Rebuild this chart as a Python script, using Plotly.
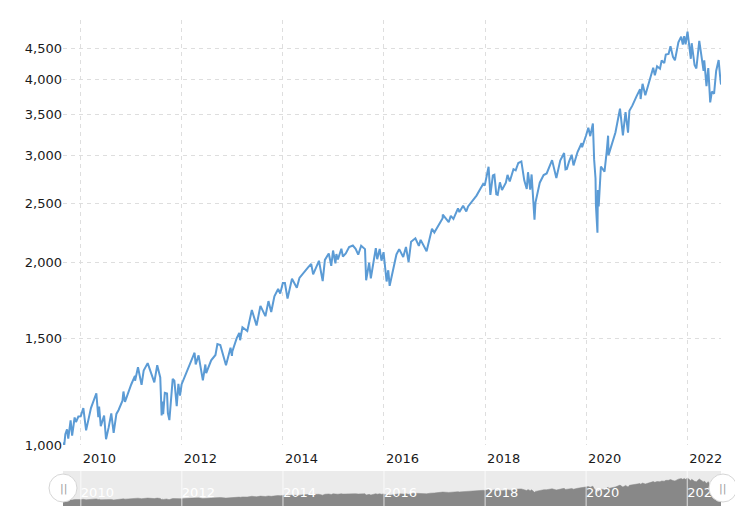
import plotly.graph_objects as go

dates = [
"2009-08-25","2009-09-02","2009-09-11","2009-09-23","2009-10-02","2009-10-19","2009-10-30","2009-11-17","2009-11-27","2009-12-14","2009-12-31",
"2010-01-19","2010-02-08","2010-02-26","2010-03-15","2010-04-23","2010-05-07","2010-05-13","2010-05-25","2010-06-18","2010-07-02","2010-07-21","2010-08-09","2010-08-26","2010-09-15","2010-09-30","2010-10-29","2010-11-05","2010-11-16","2010-12-31",
"2011-01-27","2011-01-28","2011-02-18","2011-03-16","2011-03-31","2011-04-29","2011-05-23","2011-06-16","2011-07-07","2011-07-29","2011-08-08","2011-08-12","2011-08-19","2011-08-31","2011-09-16","2011-09-22","2011-10-03","2011-10-27","2011-11-08","2011-11-25","2011-12-07","2011-12-19","2011-12-30",
"2012-01-31","2012-02-29","2012-04-02","2012-04-10","2012-05-01","2012-06-01","2012-06-19","2012-06-25","2012-07-31","2012-08-31","2012-09-14","2012-10-05","2012-11-15","2012-12-18","2012-12-28","2012-12-31",
"2013-01-31","2013-02-19","2013-02-25","2013-03-14","2013-04-18","2013-05-21","2013-06-24","2013-07-22","2013-08-27","2013-09-18","2013-10-08","2013-10-31","2013-11-27","2013-12-12","2013-12-31",
"2014-01-15","2014-02-03","2014-03-07","2014-04-11","2014-04-30","2014-05-30","2014-06-30","2014-07-24","2014-08-07","2014-09-18","2014-10-15","2014-10-31","2014-11-28","2014-12-16","2014-12-29",
"2015-01-15","2015-01-22","2015-02-02","2015-02-27","2015-03-10","2015-03-31","2015-04-24","2015-05-21","2015-06-10","2015-06-29","2015-07-20","2015-08-17","2015-08-25","2015-09-16","2015-09-28","2015-10-30","2015-11-03","2015-11-13","2015-12-01","2015-12-14","2015-12-29",
"2016-01-20","2016-02-01","2016-02-11","2016-03-31","2016-04-20","2016-05-19","2016-06-08","2016-06-27","2016-07-15","2016-08-15","2016-09-09","2016-09-22","2016-11-04","2016-11-30","2016-12-13","2016-12-30",
"2017-01-26","2017-02-28","2017-03-01","2017-04-13","2017-04-28","2017-05-17","2017-06-19","2017-06-29","2017-07-26","2017-08-18","2017-08-31","2017-09-29","2017-10-31","2017-11-30","2017-12-18","2017-12-29",
"2018-01-26","2018-02-08","2018-02-26","2018-03-09","2018-03-23","2018-04-02","2018-04-18","2018-05-03","2018-05-31","2018-06-12","2018-06-28","2018-07-25","2018-08-10","2018-08-29","2018-09-20","2018-10-11","2018-10-29","2018-11-07","2018-11-23","2018-12-03","2018-12-24","2018-12-31",
"2019-01-31","2019-02-28","2019-03-22","2019-04-30","2019-05-31","2019-06-28","2019-07-26","2019-08-05","2019-08-15","2019-08-30","2019-09-19","2019-10-02","2019-10-31","2019-11-29","2019-12-03","2019-12-31",
"2020-01-17","2020-01-31","2020-02-19","2020-02-28","2020-03-09","2020-03-12","2020-03-16","2020-03-23","2020-03-26","2020-04-01","2020-04-17","2020-05-13","2020-05-29","2020-06-08","2020-06-11","2020-06-30","2020-07-31","2020-09-02","2020-09-23","2020-10-12","2020-10-30","2020-11-09","2020-11-30","2020-12-31",
"2021-01-25","2021-01-29","2021-02-12","2021-03-04","2021-03-31","2021-04-30","2021-05-12","2021-05-28","2021-06-18","2021-06-30","2021-07-19","2021-07-30","2021-08-19","2021-09-02","2021-09-20","2021-10-04","2021-10-29","2021-11-18","2021-11-30","2021-12-10","2021-12-20",
"2022-01-03","2022-01-27","2022-02-02","2022-02-23","2022-03-08","2022-03-29","2022-04-14","2022-04-29","2022-05-04","2022-05-20","2022-06-02","2022-06-16","2022-06-28","2022-07-14","2022-07-29","2022-08-16","2022-08-26","2022-09-02",
]

values = [
1010,995,1042,1061,1025,1098,1036,1110,1091,1114,1115,
1150,1057,1105,1150,1217,1111,1157,1074,1118,1022,1069,1127,1047,1125,1141,1183,1225,1178,1258,
1300,1276,1343,1256,1326,1364,1317,1268,1353,1292,1119,1179,1124,1219,1216,1129,1099,1285,1276,1159,1261,1206,1258,
1312,1366,1419,1358,1405,1278,1357,1313,1379,1407,1466,1461,1353,1446,1402,1426,
1498,1530,1488,1563,1541,1669,1573,1695,1630,1726,1656,1757,1807,1776,1848,
1848,1742,1878,1815,1884,1924,1960,1988,1910,2011,1862,2018,2068,1973,2091,
1992,2063,2021,2105,2044,2068,2118,2131,2105,2058,2129,2102,1868,1996,1882,2079,2110,2023,2103,2012,2078,
1859,1940,1829,2060,2102,2040,2119,2001,2162,2190,2128,2177,2085,2199,2271,2239,
2296,2364,2396,2329,2384,2357,2453,2419,2478,2425,2472,2519,2575,2648,2691,2674,
2873,2581,2780,2787,2588,2582,2708,2630,2705,2786,2716,2846,2833,2914,2931,2728,2641,2814,2633,2790,2351,2507,
2704,2784,2801,2946,2752,2942,3026,2844,2848,2926,3006,2887,3038,3141,3093,3231,
3330,3226,3386,2954,2747,2481,2386,2237,2630,2471,2875,2820,3044,3232,3002,3100,3271,3580,3237,3534,3270,3551,3622,3756,
3855,3714,3934,3768,3973,4181,4063,4204,4166,4298,4258,4395,4406,4537,4358,4300,4605,4705,4567,4712,4568,
4796,4326,4589,4225,4170,4632,4393,4132,4300,3901,4176,3667,3821,3790,4130,4305,4058,3924,
]

y_ticks = [1000, 1500, 2000, 2500, 3000, 3500, 4000, 4500]
y_tick_labels = ["1,000", "1,500", "2,000", "2,500", "3,000", "3,500", "4,000", "4,500"]
x_ticks = ["2010-01-01", "2012-01-01", "2014-01-01", "2016-01-01", "2018-01-01", "2020-01-01", "2022-01-01"]
x_tick_labels = ["2010", "2012", "2014", "2016", "2018", "2020", "2022"]

FONT = "DejaVu Sans"
LINE = "#5b9bd5"
GRID = "#dedede"
TXT = "#1a1a1a"
x_range = [dates[0], dates[-1]]

fig = go.Figure()
fig.add_trace(go.Scatter(x=dates, y=values, mode="lines",
                         line=dict(color=LINE, width=2), xaxis="x", yaxis="y",
                         showlegend=False, hoverinfo="x+y"))
fig.add_trace(go.Scatter(x=dates, y=values, mode="lines", fill="tozeroy",
                         line=dict(color="#888888", width=0.5), fillcolor="#888888",
                         xaxis="x2", yaxis="y2", showlegend=False, hoverinfo="skip"))

shapes = [dict(type="rect", xref="x2 domain", yref="y2 domain", x0=0, x1=1, y0=0, y1=1,
               fillcolor="#ebebeb", line=dict(width=0), layer="below")]
for t in x_ticks:
    shapes.append(dict(type="line", xref="x2", yref="y2 domain", x0=t, x1=t, y0=0, y1=1,
                       line=dict(color="rgba(255,255,255,0.75)", width=1), layer="above"))
for px in (0, 1.003):
    shapes.append(dict(type="circle", xref="paper", yref="paper", xsizemode="pixel", ysizemode="pixel",
                       xanchor=px, yanchor=0.037, x0=-14, x1=14, y0=-14, y1=14,
                       fillcolor="white", line=dict(color="#d6d6d6", width=1), layer="above"))

annotations = [dict(xref="paper", yref="paper", x=px, y=0.037, text="||", showarrow=False,
                    font=dict(family=FONT, size=11, color="#a0a0a0"), xanchor="center", yanchor="middle")
               for px in (0, 1.003)]

fig.update_layout(
    width=735, height=519,
    margin=dict(l=55, r=22, t=12, b=21, autoexpand=False),
    paper_bgcolor="white", plot_bgcolor="white",
    font=dict(family=FONT, size=13, color=TXT),
    showlegend=False,
    xaxis=dict(type="date", range=x_range, domain=[0, 1], anchor="y", automargin=False,
               tickvals=x_ticks, ticktext=x_tick_labels, ticklabelposition="outside right",
               ticklabelstandoff=4, ticklabelshift=2,
               showgrid=True, gridcolor=GRID, griddash="4px,4px", gridwidth=1,
               zeroline=False, showline=False, ticks="", tickfont=dict(size=13, color=TXT)),
    yaxis=dict(type="log", range=[3, 3.70], domain=[0.1255, 1], anchor="x", automargin=False,
               tickvals=y_ticks, ticktext=y_tick_labels,
               showgrid=True, gridcolor=GRID, griddash="4px,4px", gridwidth=1,
               zeroline=False, showline=False, ticks="", tickfont=dict(size=13, color=TXT)),
    xaxis2=dict(type="date", range=x_range, domain=[0, 1], anchor="y2", automargin=False,
                tickvals=x_ticks, ticktext=x_tick_labels, ticklabelposition="inside right",
                showgrid=False, zeroline=False, showline=False, ticks="",
                tickfont=dict(size=13, color="white")),
    yaxis2=dict(range=[0, 6000], domain=[0, 0.072], anchor="x2", automargin=False,
                showgrid=False, zeroline=False, showline=False, showticklabels=False, ticks=""),
    shapes=shapes,
    annotations=annotations,
)

fig.write_html("out.html")
